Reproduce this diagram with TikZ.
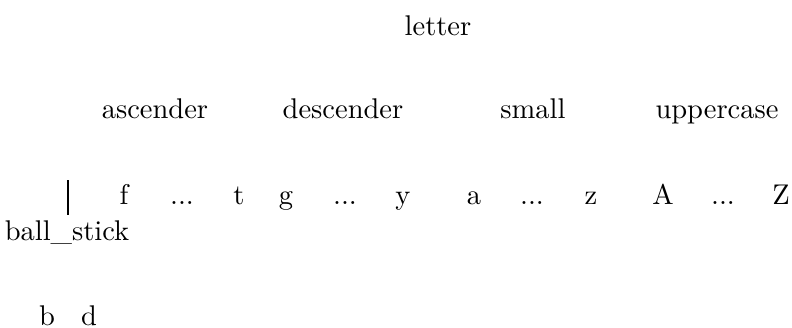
\documentclass[tikz,border=0pt]{standalone}
\begin{document}
\begin{tikzpicture}[x=0.01233cm, y=-0.01233cm, every node/.style={anchor=base, inner sep=0pt}]
  \useasboundingbox (0,0) rectangle (792,327);
  % root
  \node (letter) at (438,35) {letter};
  % groups
  \node (asc) at (155,118) {ascender};
  \node (desc) at (343,118) {descender};
  \node (small) at (533,118) {small};
  \node (upper) at (717,118) {uppercase};
  % leaves
  \node (f) at (124,204) {f};
  \node (fdots) at (182,204) {...};
  \node (t) at (239,204) {t};
  \node (g) at (286,204) {g};
  \node (gdots) at (345,204) {...};
  \node (y) at (403,204) {y};
  \node (a) at (474,204) {a};
  \node (adots) at (532,204) {...};
  \node (z) at (591,204) {z};
  \node (A) at (663,204) {A};
  \node (Adots) at (723,204) {...};
  \node (Z) at (781,204) {Z};
  \node (ballstick) at (67,240) {ball\_stick};
  \coordinate (stick) at (68,180);
  \draw[line width=0.9pt] (stick) -- ++(0,35);
  \node (b) at (47,325) {b};
  \node (d) at (89,325) {d};
\end{tikzpicture}
\end{document}
